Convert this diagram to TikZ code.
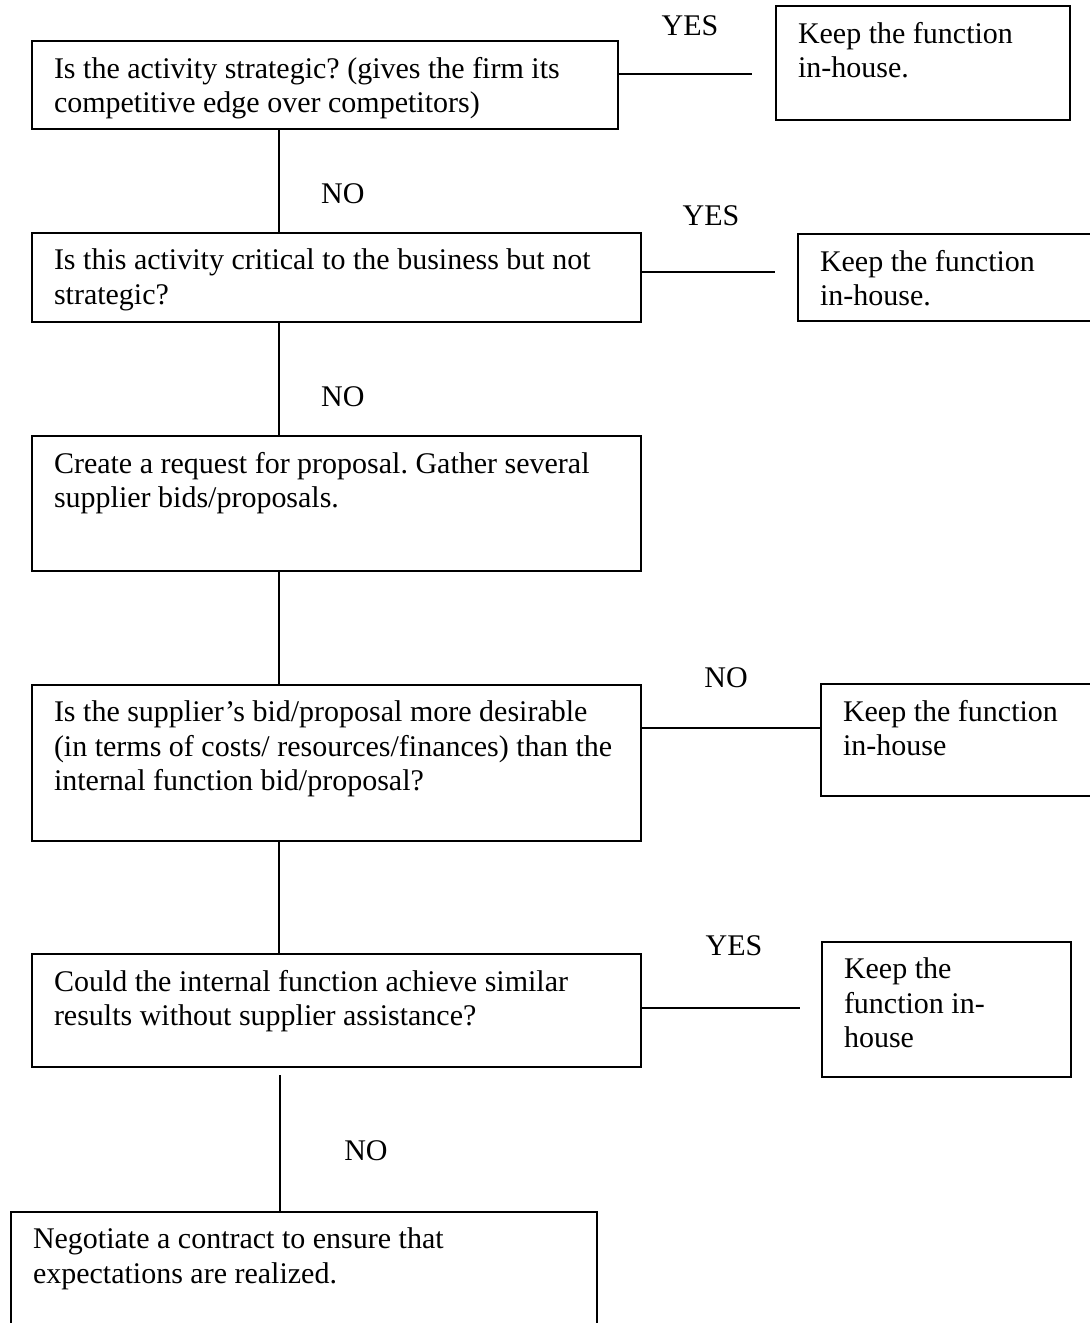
\documentclass[tikz,border=0pt]{standalone}
\usepackage{fontspec}
\setmainfont{Liberation Serif}
\frenchspacing
\begin{document}
\begin{tikzpicture}[x=1pt,y=-1pt,
  every node/.style={font=\fontsize{30}{34.5}\selectfont},
  flowbox/.style={draw, line width=2pt, anchor=north west, inner xsep=22pt, inner ysep=16pt},
  conn/.style={line width=2pt},
  lbl/.style={inner sep=0pt, text height=20pt, text depth=0pt},
  nolbl/.style={fill=white, anchor=south west, align=left, inner xsep=19pt, inner ysep=28.8pt, text height=20pt, text depth=0pt}
]
\newcommand\flowstep[6]{%
  \node[flowbox, minimum width=#4, minimum height=#5] (#1) at (#2,#3)
    {\parbox[t][\dimexpr#5pt-32pt\relax][t]{\dimexpr#4pt-44pt\relax}{\raggedright\frenchspacing #6}};}

\clip (0,0) rectangle (1090,1323);
\fill[white] (0,0) rectangle (1090,1323);

% decision and action boxes
\flowstep{b1}{31}{40}{586}{88}{Is the activity strategic? (gives the firm its\\competitive edge over competitors)}
\flowstep{r1}{775}{5}{294}{114}{Keep the function\\in-house.}
\flowstep{b2}{31}{232}{609}{89}{Is this activity critical to the business but not\\strategic?}
\flowstep{r2}{797}{233}{310}{87}{Keep the function\\in-house.}
\flowstep{b3}{31}{435}{609}{135}{Create a request for proposal. Gather several\\supplier bids/proposals.}
\flowstep{b4}{31}{684}{609}{156}{Is the supplier’s bid/proposal more desirable\\(in terms of costs/ resources/finances) than the\\internal function bid/proposal?}
\flowstep{r4}{820}{683}{290}{112}{Keep the function\\in-house}
\flowstep{b5}{31}{953}{609}{113}{Could the internal function achieve similar\\results without supplier assistance?}
\flowstep{r5}{821}{941}{249}{135}{Keep the\\function in-\\house}
\flowstep{b6}{10}{1211}{586}{150}{Negotiate a contract to ensure that\\expectations are realized.}

% vertical connectors of the main chain
\coordinate (vx) at (279,0);
\draw[conn] (b1.south -| vx) -- (b2.north -| vx);
\draw[conn] (b2.south -| vx) -- (b3.north -| vx);
\draw[conn] (b3.south -| vx) -- (b4.north -| vx);
\draw[conn] (b4.south -| vx) -- (b5.north -| vx);
\coordinate (s5) at (280,1075);
\draw[conn] (s5) -- (b6.north -| s5);

% side branches
\coordinate (e1) at (752,74);
\draw[conn] (b1.east |- e1) -- (e1);
\coordinate (e2) at (775,272);
\draw[conn] (b2.east |- e2) -- (e2);
\coordinate (e4) at (0,728);
\draw[conn] (b4.east |- e4) -- (r4.west |- e4);
\coordinate (e5) at (800,1008);
\draw[conn] (b5.east |- e5) -- (e5);

% branch labels
\node[lbl] (y1) at (690,25) {YES};
\node[lbl] (y2) at (711,215) {YES};
\node[lbl] (n3) at (726,677) {NO};
\node[lbl] (y5) at (734,945) {YES};
\node[lbl] (n5) at (366,1150) {NO};
\node[nolbl, text width=120pt] (n1) at (302,232.3) {NO};
\node[nolbl, text width=75pt] (n2) at (302,435.3) {NO};
\end{tikzpicture}
\end{document}
